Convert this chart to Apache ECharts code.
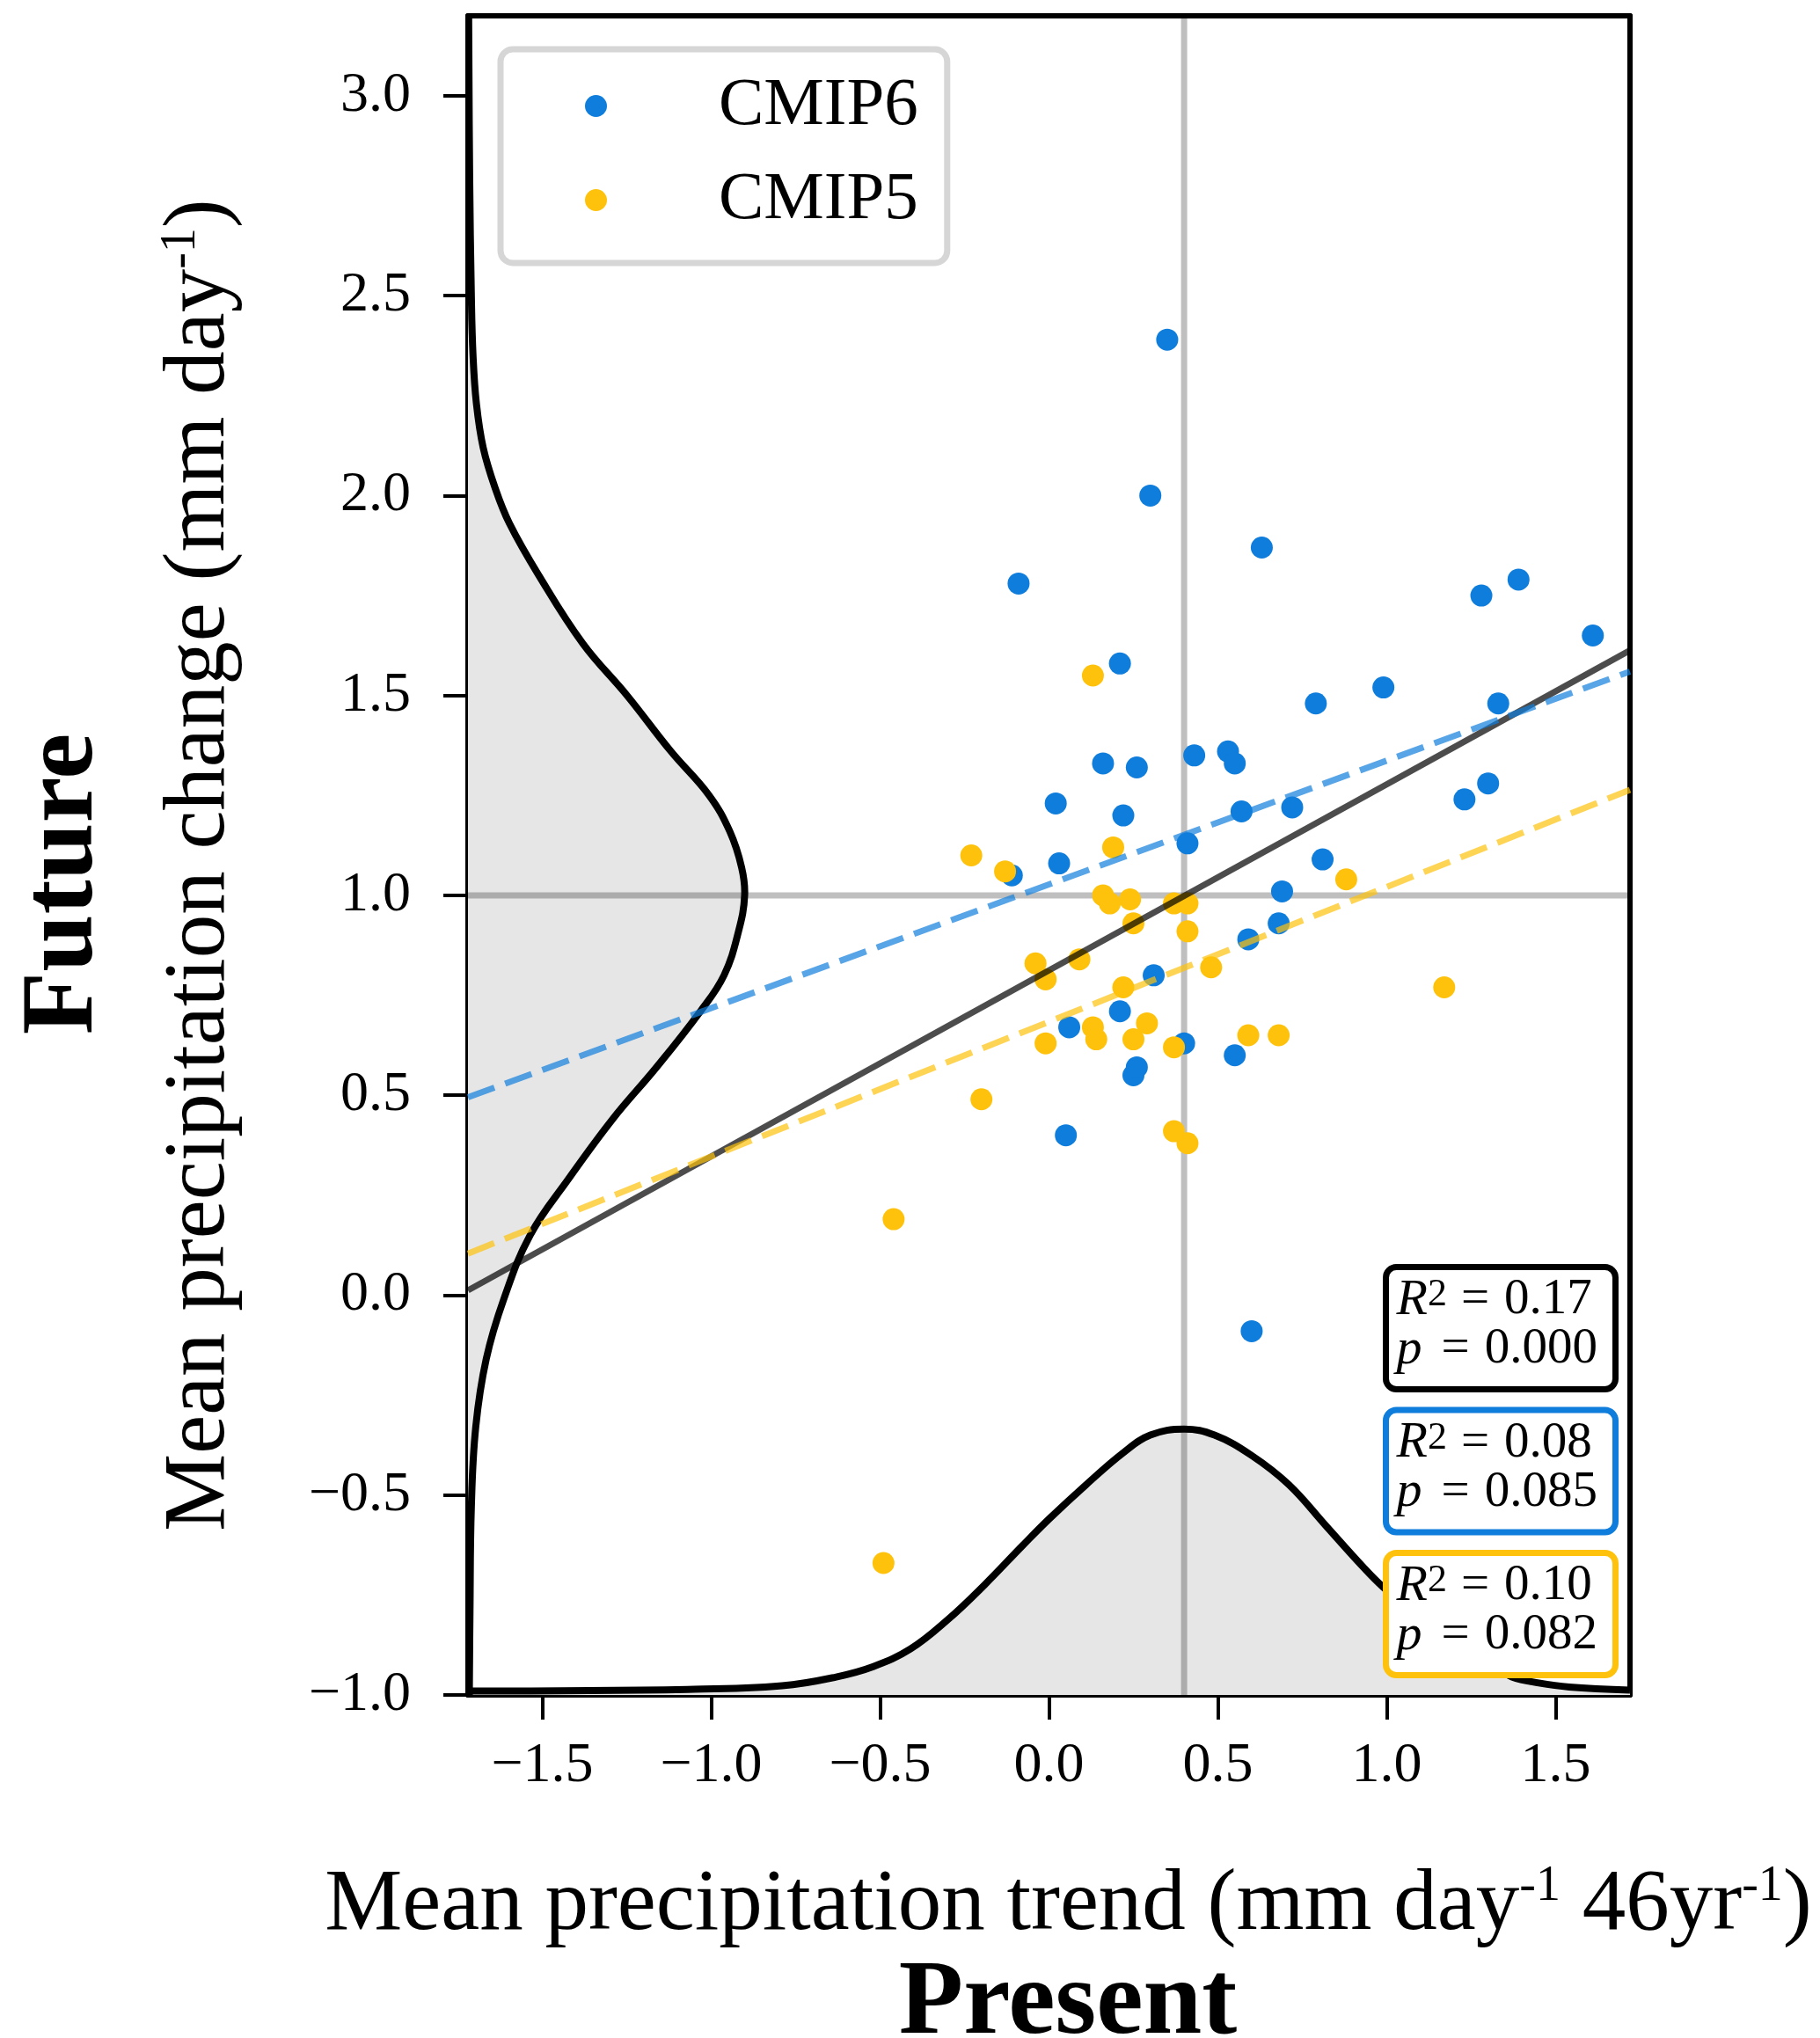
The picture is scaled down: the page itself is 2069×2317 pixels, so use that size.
<!DOCTYPE html>
<html>
<head>
<meta charset="utf-8">
<script src="https://cdn.jsdelivr.net/npm/echarts@6/dist/echarts.min.js"></script>
<style>
  html, body { margin: 0; padding: 0; background: #fff; }
  #main { width: 2069px; height: 2317px; }
</style>
</head>
<body>
<div id="main"></div>
<script>
var FONT = '"Liberation Serif", "Times New Roman", serif';

// CMIP6 models (present trend, future change)
var cmip6X = [-0.11, -0.09, 0.02, 0.03, 0.05, 0.06, 0.16, 0.21, 0.21, 0.22, 0.25, 0.26, 0.26, 0.30, 0.31,
  0.35, 0.40, 0.41, 0.43, 0.53, 0.55, 0.55, 0.60, 0.57, 0.59, 0.63, 0.68, 0.69, 0.72, 0.79, 0.81, 0.99,
  1.23, 1.28, 1.30, 1.33, 1.39, 1.61];
var cmip6Y = [1.05, 1.78, 1.23, 1.08, 0.40, 0.67, 1.33, 0.71, 1.58, 1.20, 0.55, 0.57, 1.32, 2.00, 0.80,
  2.39, 0.63, 1.13, 1.35, 1.36, 0.60, 1.33, -0.09, 1.21, 0.89, 1.87, 0.93, 1.01, 1.22, 1.48, 1.09, 1.52,
  1.24, 1.75, 1.28, 1.48, 1.79, 1.65];

// CMIP5 models
var cmip5X = [-0.49, -0.46, -0.23, -0.20, -0.13, -0.04, -0.01, -0.01, 0.09, 0.13, 0.13, 0.14, 0.16, 0.18,
  0.19, 0.22, 0.24, 0.25, 0.25, 0.29, 0.37, 0.37, 0.37, 0.41, 0.41, 0.41, 0.48, 0.59, 0.68, 0.88, 1.17];
var cmip5Y = [-0.67, 0.19, 1.10, 0.49, 1.06, 0.83, 0.79, 0.63, 0.84, 0.67, 1.55, 0.64, 1.00, 0.98,
  1.12, 0.77, 0.99, 0.64, 0.93, 0.68, 0.62, 0.98, 0.41, 0.91, 0.38, 0.98, 0.82, 0.65, 0.65, 1.04, 0.77];

// grey cross lines (means)
var meanX = 0.4;
var meanY = 1.0;

// regression lines, values at the two plot edges
var fitX = [-1.72, 1.72];
var fitAll = [0.012, 1.613];
var fit6 = [0.495, 1.56];
var fit5 = [0.104, 1.264];

// statistics boxes
var statR2 = ['0.17', '0.08', '0.10'];
var statP = ['0.000', '0.085', '0.082'];

// marginal density along x (drawn on the bottom)
var kdeBottomX = [-1.72, -1.07, -0.79, -0.63, -0.52, -0.41, -0.30, -0.19, -0.08, 0.00, 0.11, 0.22, 0.30,
  0.40, 0.49, 0.60, 0.71, 0.82, 0.93, 0.99, 1.10, 1.21, 1.32, 1.37, 1.45, 1.54, 1.72];
var kdeBottomY = [-0.99, -0.986, -0.977, -0.955, -0.929, -0.885, -0.812, -0.724, -0.628, -0.56, -0.474,
  -0.394, -0.350, -0.335, -0.350, -0.401, -0.474, -0.577, -0.680, -0.731, -0.81, -0.88, -0.93, -0.955,
  -0.97, -0.98, -0.988];

// marginal density along y (drawn on the left)
var kdeLeftY = [3.2, 2.8, 2.5, 2.35, 2.23, 2.12, 2.02, 1.93, 1.80, 1.63, 1.50, 1.36, 1.25, 1.16, 1.07,
  1.00, 0.91, 0.80, 0.71, 0.57, 0.44, 0.29, 0.15, -0.01, -0.16, -0.33, -0.53, -0.79, -1.0];
var kdeLeftX = [-1.718, -1.715, -1.710, -1.705, -1.695, -1.675, -1.640, -1.597, -1.510, -1.380, -1.249,
  -1.119, -1.006, -0.945, -0.910, -0.901, -0.919, -0.962, -1.032, -1.162, -1.292, -1.423, -1.536, -1.614,
  -1.666, -1.697, -1.710, -1.714, -1.716];

var xTicks = [-1.5, -1.0, -0.5, 0.0, 0.5, 1.0, 1.5];
var yTicks = [-1.0, -0.5, 0.0, 0.5, 1.0, 1.5, 2.0, 2.5, 3.0];
var xMin = -1.72, xMax = 1.72, yMin = -1.0, yMax = 3.2;

var BLUE = '#0f7ddc';
var YELLOW = '#fec20c';

function zip(a, b) {
  return a.map(function (v, i) { return [v, b[i]]; });
}
function fmt(v) {
  return v.toFixed(1).replace('-', '\u2212');
}

// density curve with grey fill, closed along one edge of the plot
function kdeSeries(xs, ys, closeA, closeB) {
  return {
    type: 'custom',
    z: 1,
    silent: true,
    clip: true,
    data: [[xs[0], ys[0]]],
    renderItem: function (params, api) {
      var pts = ys.map(function (y, i) { return api.coord([xs[i], y]); });
      var poly = pts.concat([api.coord(closeA), api.coord(closeB)]);
      return {
        type: 'group',
        children: [
          { type: 'polygon', shape: { points: poly, smooth: 0.4 }, style: { fill: '#e6e6e6' } },
          { type: 'polyline', shape: { points: pts, smooth: 0.4 }, style: { stroke: '#000', lineWidth: 8, fill: null } }
        ]
      };
    }
  };
}

var dom = document.getElementById('main');
var myChart = echarts.init(dom, null, { renderer: 'canvas' });

var axisText = { fontFamily: FONT, fontSize: 64, color: '#000' };
var nameRich = {
  n: { fontFamily: FONT, fontSize: 99, color: '#000' },
  s: { fontFamily: FONT, fontSize: 56, color: '#000', verticalAlign: 'top', lineHeight: 56 }
};

var statColors = ['#000', BLUE, YELLOW];
var statBoxes = statColors.map(function (c, i) {
  return {
    type: 'group',
    x: 1575.5,
    y: 1440.5 + i * 162.5,
    z: 100,
    children: [
      {
        type: 'rect',
        z: 100,
        shape: { x: 0, y: 0, width: 261, height: 139, r: 12 },
        style: { fill: '#fff', stroke: c, lineWidth: 7 }
      },
      {
        type: 'text',
        z: 101,
        x: 12,
        y: 10,
        style: {
          text: '{i|R}{s|2}{g|=}{t|' + statR2[i] + '}\n{i|p}{h|=}{t|' + statP[i] + '}',
          fontFamily: FONT,
          fontSize: 57,
          fill: '#000',
          textVerticalAlign: 'top',
          rich: {
            i: { fontFamily: FONT, fontSize: 58, fontStyle: 'italic', lineHeight: 56 },
            s: { fontFamily: FONT, fontSize: 44, verticalAlign: 'top', lineHeight: 14 },
            g: { fontFamily: FONT, fontSize: 57, lineHeight: 56, padding: [0, 17, 0, 16] },
            h: { fontFamily: FONT, fontSize: 57, lineHeight: 56, padding: [0, 17, 0, 22] },
            t: { fontFamily: FONT, fontSize: 57, lineHeight: 56 }
          }
        }
      }
    ]
  };
});

var option = {
  backgroundColor: '#fff',
  animation: false,
  grid: { left: 532, right: 216, top: 18, bottom: 390, containLabel: false },
  legend: {
    orient: 'vertical',
    left: 569,
    top: 56,
    data: ['CMIP6', 'CMIP5'],
    icon: 'circle',
    itemWidth: 25,
    itemHeight: 25,
    itemGap: 30,
    padding: [26, 33, 33, 96],
    borderColor: '#d6d6d6',
    borderWidth: 7,
    borderRadius: 14,
    backgroundColor: '#fff',
    textStyle: { fontFamily: FONT, fontSize: 77, color: '#000', lineHeight: 76, padding: [0, 0, 0, 122] }
  },
  xAxis: [
    {
      type: 'value', min: xMin, max: xMax,
      name: '{n|Mean precipitation trend (mm day}{s|-1}{n| 46yr}{s|-1}{n|)}',
      nameLocation: 'middle', nameGap: 190,
      nameTextStyle: { fontFamily: FONT, fontSize: 99, color: '#000', padding: [0, 0, 0, 44], rich: nameRich },
      axisLine: { show: true, onZero: false, lineStyle: { color: '#000', width: 6 } },
      axisTick: { show: true, length: 28, lineStyle: { color: '#000', width: 4 }, customValues: xTicks },
      axisLabel: { show: true, margin: 49, formatter: fmt, customValues: xTicks, textStyle: axisText },
      splitLine: { show: false }
    },
    {
      type: 'value', min: xMin, max: xMax, position: 'top',
      axisLine: { show: true, onZero: false, lineStyle: { color: '#000', width: 6 } },
      axisTick: { show: false }, axisLabel: { show: false }, splitLine: { show: false }
    }
  ],
  yAxis: [
    {
      type: 'value', min: yMin, max: yMax,
      name: '{n|Mean precipitation change (mm day}{s|-1}{n|)}',
      nameLocation: 'middle', nameGap: 255,
      nameTextStyle: { fontFamily: FONT, fontSize: 99, color: '#000', padding: [0, 22, 0, 0], rich: nameRich },
      axisLine: { show: true, onZero: false, lineStyle: { color: '#000', width: 6 } },
      axisTick: { show: true, length: 28, lineStyle: { color: '#000', width: 4 }, customValues: yTicks },
      axisLabel: { show: true, margin: 65, formatter: fmt, customValues: yTicks, textStyle: axisText },
      splitLine: { show: false }
    },
    {
      type: 'value', min: yMin, max: yMax, position: 'right',
      axisLine: { show: true, onZero: false, lineStyle: { color: '#000', width: 6 } },
      axisTick: { show: false }, axisLabel: { show: false }, splitLine: { show: false }
    }
  ],
  graphic: statBoxes.concat([
    {
      type: 'text', x: 74, y: 1005, rotation: Math.PI / 2, z: 100,
      style: { text: 'Future', fontFamily: FONT, fontWeight: 'bold', fontSize: 117, fill: '#000',
        textAlign: 'center', textVerticalAlign: 'middle' }
    },
    {
      type: 'text', x: 1214, y: 2280, z: 100,
      style: { text: 'Present', fontFamily: FONT, fontWeight: 'bold', fontSize: 120, fill: '#000',
        textAlign: 'center', textVerticalAlign: 'middle' }
    }
  ]),
  series: [
    kdeSeries(kdeBottomX, kdeBottomY, [xMax, yMin], [xMin, yMin]),
    kdeSeries(kdeLeftX, kdeLeftY, [xMin, yMin], [xMin, yMax]),
    {
      name: 'meanX',
      type: 'line',
      data: [[meanX, yMin], [meanX, yMax]],
      showSymbol: false,
      z: 2,
      lineStyle: { color: 'rgba(0,0,0,0.25)', width: 7 },
      silent: true
    },
    {
      name: 'meanY',
      type: 'line',
      data: [[xMin, meanY], [xMax, meanY]],
      showSymbol: false,
      z: 2,
      lineStyle: { color: 'rgba(0,0,0,0.25)', width: 7 },
      silent: true
    },
    {
      name: 'CMIP6',
      type: 'scatter',
      data: zip(cmip6X, cmip6Y),
      symbolSize: 25,
      z: 3,
      itemStyle: { color: BLUE, opacity: 1 }
    },
    {
      name: 'CMIP5',
      type: 'scatter',
      data: zip(cmip5X, cmip5Y),
      symbolSize: 25,
      z: 3,
      itemStyle: { color: YELLOW, opacity: 1 }
    },
    {
      name: 'fitAll',
      type: 'line',
      data: zip(fitX, fitAll),
      showSymbol: false,
      z: 4,
      lineStyle: { color: 'rgba(0,0,0,0.7)', width: 7 },
      silent: true
    },
    {
      name: 'fit6',
      type: 'line',
      data: zip(fitX, fit6),
      showSymbol: false,
      z: 4,
      lineStyle: { color: 'rgba(15,125,220,0.7)', width: 7, type: [32, 13] },
      silent: true
    },
    {
      name: 'fit5',
      type: 'line',
      data: zip(fitX, fit5),
      showSymbol: false,
      z: 4,
      lineStyle: { color: 'rgba(254,194,12,0.7)', width: 7, type: [32, 13] },
      silent: true
    }
  ]
};

if (option && typeof option === 'object') {
  myChart.setOption(option);
}

window.addEventListener('resize', myChart.resize);
</script>
</body>
</html>
